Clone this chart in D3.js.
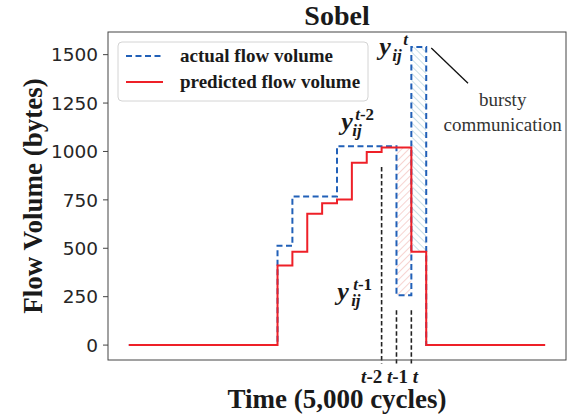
<!DOCTYPE html>
<html>
<head>
<meta charset="utf-8">
<script src="https://cdn.jsdelivr.net/npm/d3@7"></script>
<style>
body { margin: 0; background: #fff; }
text { fill: #1a1a1a; }
.serif { font-family: "Liberation Serif", "Times New Roman", serif; font-weight: bold; }
</style>
</head>
<body>
<div id="vis"></div>
<script>
// time steps (x) and the two flow series
var times = [0,1,2,3,4,5,6,7,8,9,10,11,12,13,14,15,16,17,18,19,20,21,22,23,24,25,26,27,28];
var actual = [0,0,0,0,0,0,0,0,0,0,513,768,768,768,1027,1027,1027,1027,258,1540,0,0,0,0,0,0,0,0,0];
var predicted = [0,0,0,0,0,0,0,0,0,0,411,482,678,733,752,942,997,1020,1020,482,0,0,0,0,0,0,0,0,0];
var yTicks = [0,250,500,750,1000,1250,1500];
var markTimes = [17,18,19];
var markLabels = ["-2","-1",""];
var markTops = [920,180,180];
var seriesNames = ["actual flow volume","predicted flow volume"];
var ySups = ["t","t-2","t-1"];
var burstyLines = ["bursty","communication"];

var W = 574, H = 418;
var margin = {top: 32, right: 8, bottom: 58, left: 108},
	width = W - margin.left - margin.right,
	height = H - margin.top - margin.bottom;

var blue = "#2160b8", red = "#ee2028";

var x = d3.scaleLinear().domain([-1.4, 29.4]).range([0, width]);
var y = d3.scaleLinear().domain([-77, 1617]).range([height, 0]);

var svg = d3.select("#vis").append("svg")
	.attr("width", W)
	.attr("height", H);

var defs = svg.append("defs");
function hatch(id, angle, color){
	defs.append("pattern")
		.attr("id", id)
		.attr("patternUnits", "userSpaceOnUse")
		.attr("width", 5).attr("height", 5)
		.attr("patternTransform", "rotate(" + angle + ")")
	.append("line")
		.attr("x1", 0).attr("y1", 0).attr("x2", 0).attr("y2", 5)
		.attr("stroke", color).attr("stroke-width", 1);
}
hatch("hatchRed", 45, "#eeaaa4");
hatch("hatchBlue", -45, "#94bfcd");

var g = svg.append("g")
	.attr("transform", "translate(" + margin.left + "," + margin.top + ")");

// title
svg.append("text").attr("class", "serif")
	.attr("x", margin.left + width / 2).attr("y", 25)
	.attr("text-anchor", "middle").style("font-size", "28px")
	.text("Sobel");

// hatched boxes: t-1 (actual below predicted) and t (burst)
var iT1 = times.indexOf(markTimes[1]), iT = times.indexOf(markTimes[2]);
g.append("rect")
	.attr("x", x(times[iT1])).attr("width", x(times[iT1 + 1]) - x(times[iT1]))
	.attr("y", y(predicted[iT1])).attr("height", y(actual[iT1]) - y(predicted[iT1]))
	.attr("fill", "url(#hatchRed)");
g.append("rect")
	.attr("x", x(times[iT])).attr("width", x(times[iT + 1]) - x(times[iT]))
	.attr("y", y(actual[iT])).attr("height", y(predicted[iT]) - y(actual[iT]))
	.attr("fill", "url(#hatchBlue)");

// black dashed marker lines
g.selectAll(".mark")
	.data(markTimes)
	.enter().append("line")
		.attr("x1", function(d){return x(d);}).attr("x2", function(d){return x(d);})
		.attr("y1", function(d, i){return y(markTops[i]);})
		.attr("y2", height + 3.5)
		.attr("stroke", "#222").attr("stroke-width", 1.6)
		.attr("stroke-dasharray", "4.5,2.5");

var line = d3.line()
	.x(function(d, i){return x(times[i]);})
	.y(function(d){return y(d);})
	.curve(d3.curveStepAfter);

g.append("path").datum(actual)
	.attr("d", line).attr("fill", "none")
	.attr("stroke", blue).attr("stroke-width", 2)
	.attr("stroke-dasharray", "6,3.5");
g.append("path").datum(predicted)
	.attr("d", line).attr("fill", "none")
	.attr("stroke", red).attr("stroke-width", 2);

// frame
g.append("rect")
	.attr("width", width).attr("height", height)
	.attr("fill", "none").attr("stroke", "#444").attr("stroke-width", 1);

// y axis
g.selectAll(".ytick")
	.data(yTicks)
	.enter().append("line")
		.attr("x1", -5).attr("x2", 0)
		.attr("y1", function(d){return y(d);}).attr("y2", function(d){return y(d);})
		.attr("stroke", "#444");
g.selectAll(".ylab")
	.data(yTicks)
	.enter().append("text")
		.attr("x", -10).attr("y", function(d){return y(d);})
		.attr("dy", "0.36em")
		.attr("text-anchor", "end")
		.style("font-family", "DejaVu Sans").style("font-size", "18.5px")
		.style("fill", "#262626")
		.text(function(d){return d;});

// x tick labels t-2, t-1, t (squeezed together as in the figure)
var labShift = [-20.5, -9.5, 1.5];
var xl = g.selectAll(".xlab")
	.data(markTimes)
	.enter().append("text").attr("class", "serif")
		.attr("x", function(d, i){return x(d) + labShift[i];}).attr("y", height + 23)
		.style("font-size", "19px");
xl.append("tspan").style("font-style", "italic").text("t");
xl.append("tspan").text(function(d, i){return markLabels[i];});

// axis titles
svg.append("text").attr("class", "serif")
	.attr("x", margin.left + width / 2).attr("y", 408)
	.attr("text-anchor", "middle").style("font-size", "27px")
	.text("Time (5,000 cycles)");
svg.append("text").attr("class", "serif")
	.attr("transform", "translate(42," + (margin.top + height / 2) + ") rotate(-90)")
	.attr("text-anchor", "middle").style("font-size", "27px")
	.text("Flow Volume (bytes)");

// y_ij labels
var yLabs = [
	{sup: ySups[0], tx: 16.84, ty: 1498, sx: 13, px: 24},
	{sup: ySups[1], tx: 14.28, ty: 1111, sx: 11, px: 14},
	{sup: ySups[2], tx: 14.01, ty: 233, sx: 14, px: 16}
];
yLabs.forEach(function(d){
	var t = g.append("text").attr("class", "serif")
		.attr("transform", "translate(" + x(d.tx) + "," + y(d.ty) + ")");
	t.append("tspan").attr("x", 0).attr("y", 0)
		.style("font-size", "26px").style("font-style", "italic").text("y");
	t.append("tspan").attr("x", d.sx).attr("y", 6)
		.style("font-size", "17px").style("font-style", "italic").text("ij");
	t.append("tspan").attr("x", d.px).attr("y", -10)
		.style("font-size", "17px").style("font-style", "italic").text(d.sup.slice(0, 1));
	t.append("tspan")
		.style("font-size", "17px").text(d.sup.slice(1));
});

// bursty communication annotation
g.append("line")
	.attr("x1", x(20.34)).attr("y1", y(1534))
	.attr("x2", x(22.81)).attr("y2", y(1352))
	.attr("stroke", "#111").attr("stroke-width", 1.3);
g.selectAll(".burst")
	.data(burstyLines)
	.enter().append("text")
		.attr("x", x(25.14)).attr("y", function(d, i){return y(1235) + i * 25;})
		.attr("text-anchor", "middle")
		.style("font-family", "Liberation Serif").style("font-size", "19px")
		.style("fill", "#333")
		.text(function(d){return d;});

// legend
var lg = svg.append("g").attr("transform", "translate(118,42)");
lg.append("rect").attr("width", 250).attr("height", 59).attr("rx", 4)
	.attr("fill", "#fff").attr("fill-opacity", 0.8)
	.attr("stroke", "#d4d4d4");
var items = lg.selectAll(".item")
	.data(seriesNames)
	.enter().append("g")
		.attr("transform", function(d, i){return "translate(0," + (14 + i * 26) + ")";});
items.append("line")
	.attr("x1", 8).attr("x2", 45)
	.attr("stroke", function(d, i){return i === 0 ? blue : red;})
	.attr("stroke-width", 2)
	.attr("stroke-dasharray", function(d, i){return i === 0 ? "6,3.5" : null;});
items.append("text").attr("class", "serif")
	.attr("x", 62).attr("y", 6)
	.style("font-size", "19px")
	.text(function(d){return d;});
</script>
</body>
</html>
